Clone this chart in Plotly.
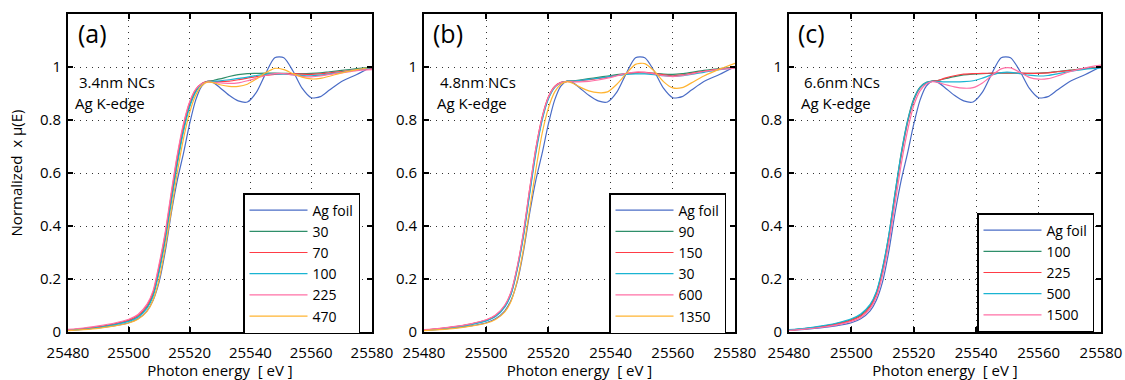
import plotly.graph_objects as go

# ---------------- data ----------------
energy = [25480, 25485, 25490, 25495, 25500, 25503, 25506, 25508, 25510, 25512,
          25514, 25516, 25518, 25520, 25522, 25524, 25526, 25528, 25530, 25533,
          25536, 25539, 25542, 25545, 25548, 25551, 25554, 25557, 25560, 25563,
          25566, 25570, 25575, 25580]

ag_foil = [0.006, 0.010, 0.015, 0.023, 0.035, 0.050, 0.080, 0.120, 0.190, 0.305,
           0.450, 0.575, 0.675, 0.785, 0.875, 0.928, 0.947, 0.940, 0.922, 0.893,
           0.872, 0.868, 0.905, 0.975, 1.035, 1.035, 0.985, 0.920, 0.884, 0.888,
           0.913, 0.945, 0.972, 1.002]

# panel (a) 3.4 nm NCs
a_30 = [0.007, 0.012, 0.018, 0.028, 0.042, 0.058, 0.093, 0.140, 0.235, 0.355,
        0.500, 0.645, 0.765, 0.855, 0.910, 0.937, 0.945, 0.950, 0.955, 0.964,
        0.971, 0.975, 0.976, 0.977, 0.977, 0.976, 0.975, 0.975, 0.976, 0.978,
        0.982, 0.987, 0.994, 1.000]
a_70 = [0.008, 0.013, 0.020, 0.030, 0.045, 0.062, 0.100, 0.150, 0.250, 0.370,
        0.520, 0.665, 0.780, 0.865, 0.915, 0.938, 0.946, 0.945, 0.945, 0.947,
        0.952, 0.958, 0.964, 0.968, 0.972, 0.975, 0.975, 0.973, 0.972, 0.974,
        0.978, 0.983, 0.990, 0.995]
a_100 = [0.007, 0.011, 0.017, 0.027, 0.040, 0.056, 0.090, 0.135, 0.228, 0.345,
         0.490, 0.635, 0.757, 0.848, 0.905, 0.935, 0.945, 0.946, 0.948, 0.952,
         0.957, 0.962, 0.968, 0.972, 0.974, 0.973, 0.971, 0.968, 0.967, 0.969,
         0.974, 0.980, 0.990, 0.998]
a_225 = [0.010, 0.015, 0.023, 0.033, 0.048, 0.066, 0.105, 0.156, 0.258, 0.378,
         0.530, 0.672, 0.787, 0.868, 0.916, 0.937, 0.943, 0.942, 0.940, 0.938,
         0.940, 0.948, 0.958, 0.968, 0.975, 0.975, 0.970, 0.965, 0.963, 0.966,
         0.972, 0.978, 0.986, 0.990]
a_470 = [0.005, 0.009, 0.014, 0.022, 0.034, 0.048, 0.078, 0.120, 0.200, 0.320,
         0.460, 0.605, 0.730, 0.827, 0.893, 0.930, 0.944, 0.940, 0.933, 0.927,
         0.927, 0.935, 0.955, 0.978, 0.995, 0.990, 0.975, 0.962, 0.955, 0.957,
         0.965, 0.978, 0.990, 1.000]

# panel (b) 4.8 nm NCs
b_90 = [0.007, 0.012, 0.019, 0.029, 0.043, 0.060, 0.097, 0.145, 0.240, 0.368,
        0.530, 0.685, 0.805, 0.883, 0.925, 0.941, 0.946, 0.948, 0.951, 0.956,
        0.961, 0.966, 0.971, 0.975, 0.978, 0.978, 0.976, 0.973, 0.972, 0.975,
        0.980, 0.987, 0.994, 1.000]
b_150 = [0.008, 0.013, 0.020, 0.030, 0.045, 0.062, 0.100, 0.150, 0.245, 0.375,
         0.540, 0.695, 0.812, 0.888, 0.927, 0.942, 0.946, 0.946, 0.948, 0.952,
         0.957, 0.962, 0.968, 0.974, 0.979, 0.980, 0.976, 0.970, 0.967, 0.970,
         0.976, 0.984, 0.992, 0.998]
b_30 = [0.007, 0.011, 0.018, 0.028, 0.042, 0.058, 0.095, 0.142, 0.236, 0.362,
        0.522, 0.677, 0.799, 0.879, 0.922, 0.940, 0.946, 0.947, 0.949, 0.953,
        0.958, 0.963, 0.968, 0.972, 0.974, 0.974, 0.971, 0.967, 0.965, 0.967,
        0.972, 0.980, 0.990, 0.997]
b_600 = [0.009, 0.014, 0.021, 0.031, 0.046, 0.064, 0.102, 0.152, 0.248, 0.378,
         0.542, 0.695, 0.810, 0.886, 0.925, 0.941, 0.945, 0.944, 0.944, 0.946,
         0.951, 0.958, 0.967, 0.976, 0.981, 0.980, 0.974, 0.967, 0.964, 0.967,
         0.974, 0.983, 0.991, 0.996]
b_1350 = [0.005, 0.009, 0.014, 0.022, 0.033, 0.047, 0.076, 0.116, 0.195, 0.315,
          0.465, 0.615, 0.750, 0.845, 0.905, 0.935, 0.945, 0.938, 0.925, 0.910,
          0.903, 0.906, 0.935, 0.975, 1.010, 1.013, 0.985, 0.945, 0.921, 0.922,
          0.940, 0.966, 0.992, 1.014]

# panel (c) 6.6 nm NCs
c_100 = [0.008, 0.013, 0.020, 0.031, 0.047, 0.064, 0.100, 0.148, 0.240, 0.365,
         0.525, 0.677, 0.798, 0.880, 0.924, 0.942, 0.947, 0.950, 0.956, 0.964,
         0.970, 0.973, 0.975, 0.976, 0.977, 0.977, 0.976, 0.976, 0.977, 0.979,
         0.983, 0.988, 0.995, 1.000]
c_225 = [0.007, 0.012, 0.019, 0.029, 0.044, 0.060, 0.095, 0.142, 0.232, 0.355,
         0.512, 0.665, 0.788, 0.873, 0.920, 0.940, 0.946, 0.950, 0.958, 0.967,
         0.973, 0.975, 0.976, 0.977, 0.978, 0.978, 0.977, 0.976, 0.976, 0.978,
         0.982, 0.987, 0.994, 0.999]
c_500 = [0.009, 0.014, 0.022, 0.033, 0.050, 0.068, 0.104, 0.152, 0.243, 0.367,
         0.525, 0.675, 0.795, 0.877, 0.922, 0.941, 0.946, 0.945, 0.944, 0.944,
         0.945, 0.948, 0.958, 0.970, 0.979, 0.980, 0.975, 0.969, 0.966, 0.968,
         0.974, 0.983, 0.992, 0.997]
c_1500 = [0.006, 0.011, 0.017, 0.026, 0.040, 0.055, 0.088, 0.132, 0.215, 0.335,
          0.485, 0.635, 0.760, 0.855, 0.910, 0.936, 0.945, 0.941, 0.934, 0.925,
          0.920, 0.922, 0.940, 0.968, 0.993, 0.997, 0.980, 0.961, 0.954, 0.956,
          0.966, 0.982, 0.997, 1.007]

x_ticks = [25480, 25500, 25520, 25540, 25560, 25580]
x_tick_labels = ["25480", "25500", "25520", "25540", "25560", "25580"]
y_ticks = [0, 0.2, 0.4, 0.6, 0.8, 1.0]
y_tick_labels = ["0", "0.2", "0.4", "0.6", "0.8", "1"]

BLUE, GREEN, RED, CYAN, PINK, ORANGE = "#4a6cc6", "#2e8e6a", "#ff3c46", "#1ab4d2", "#ff70a6", "#ffb432"

panels = [
    dict(tag="(a)", size="3.4nm NCs",
         labels=["Ag foil", "30", "70", "100", "225", "470"],
         series=[ag_foil, a_30, a_70, a_100, a_225, a_470],
         colors=[BLUE, GREEN, RED, CYAN, PINK, ORANGE]),
    dict(tag="(b)", size="4.8nm NCs",
         labels=["Ag foil", "90", "150", "30", "600", "1350"],
         series=[ag_foil, b_90, b_150, b_30, b_600, b_1350],
         colors=[BLUE, GREEN, RED, CYAN, PINK, ORANGE]),
    dict(tag="(c)", size="6.6nm NCs",
         labels=["Ag foil", "100", "225", "500", "1500"],
         series=[ag_foil, c_100, c_225, c_500, c_1500],
         colors=[BLUE, GREEN, RED, CYAN, PINK]),
]

# ---------------- layout geometry (pixels) ----------------
W, H = 1125, 380
def fx(p): return p / W
def fy(p): return 1 - p / H

x_px = [(68, 372), (424, 735), (789, 1101)]
top_px, bot_px = 14, 332
legend_px = [(243, 193), (609, 193), (977, 213)]
tag_px = [(76, 33), (431, 33), (796, 33)]
txt1_px = [(77, 82), (438, 82), (802, 82)]
txt2_px = [(73, 103), (435, 103), (799, 103)]

FONT = "Open Sans, Noto Sans, DejaVu Sans, sans-serif"

fig = go.Figure()
layout = dict(
    width=W, height=H, margin=dict(l=0, r=0, t=0, b=0, autoexpand=False),
    paper_bgcolor="white", plot_bgcolor="white",
    font=dict(family=FONT, size=15, color="black"),
    annotations=[],
)

axis_common = dict(
    ticks="inside", ticklen=5, tickwidth=1.5, tickcolor="black",
    showline=True, linecolor="black", linewidth=2, mirror="ticks",
    showgrid=True, gridcolor="#333333", gridwidth=1, griddash="1px,5px",
    zeroline=False, automargin=False,
    tickfont=dict(family=FONT, size=15, color="black"),
)

for i, p in enumerate(panels):
    n = i + 1
    xa = "x" if n == 1 else f"x{n}"
    ya = "y" if n == 1 else f"y{n}"
    lg = "legend" if n == 1 else f"legend{n}"
    for lab, ys, col in zip(p["labels"], p["series"], p["colors"]):
        fig.add_trace(go.Scatter(
            x=energy, y=ys, name=lab, mode="lines",
            line=dict(color=col, width=1.2, shape="spline", smoothing=0.7),
            xaxis=xa, yaxis=ya, legend=lg,
        ))
    x0, x1 = x_px[i]
    xkey = "xaxis" if n == 1 else f"xaxis{n}"
    ykey = "yaxis" if n == 1 else f"yaxis{n}"
    layout[xkey] = dict(
        axis_common, domain=[fx(x0), fx(x1)], range=[25480, 25580],
        tickvals=x_ticks, ticktext=x_tick_labels, anchor=ya,
        ticklabelstandoff=6,
        title=dict(text="Photon energy\u00a0 [ eV ]", standoff=3,
                   font=dict(family=FONT, size=15, color="black")),
    )
    ycfg = dict(
        axis_common, domain=[fy(bot_px), fy(top_px)], range=[0, 1.2],
        tickvals=y_ticks, ticktext=y_tick_labels, anchor=xa,
        ticklabelstandoff=2,
    )
    if n == 1:
        ycfg["title"] = dict(text="Normalized\u00a0 x \u03bc(E)", standoff=14,
                             font=dict(family=FONT, size=15, color="black"))
    layout[ykey] = ycfg

    lx, ly = legend_px[i]
    layout[lg] = dict(
        x=fx(lx), y=fy(ly), xanchor="left", yanchor="top",
        bgcolor="white", bordercolor="black", borderwidth=1.5,
        font=dict(family=FONT, size=14, color="black"),
        itemwidth=58, tracegroupgap=0,
    )

    tx, ty = tag_px[i]
    layout["annotations"].append(dict(
        text=p["tag"], x=fx(tx), y=fy(ty), xref="paper", yref="paper",
        xanchor="left", yanchor="middle", showarrow=False,
        font=dict(family=FONT, size=25, color="black")))
    tx, ty = txt1_px[i]
    layout["annotations"].append(dict(
        text=p["size"], x=fx(tx), y=fy(ty), xref="paper", yref="paper",
        xanchor="left", yanchor="middle", showarrow=False,
        font=dict(family=FONT, size=15, color="black")))
    tx, ty = txt2_px[i]
    layout["annotations"].append(dict(
        text="Ag K-edge", x=fx(tx), y=fy(ty), xref="paper", yref="paper",
        xanchor="left", yanchor="middle", showarrow=False,
        font=dict(family=FONT, size=15, color="black")))

fig.update_layout(**layout)
fig.write_html("out.html")
